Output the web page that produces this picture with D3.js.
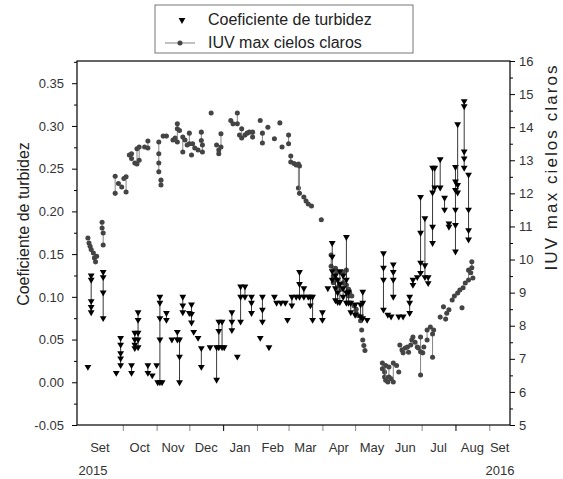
<!DOCTYPE html>
<html>
<head>
<meta charset="utf-8">
<script src="https://cdn.jsdelivr.net/npm/d3@7"></script>
<style>
body { margin: 0; background: #fff; }
svg text { font-family: "Liberation Sans", Arial, sans-serif; }
</style>
</head>
<body>
<svg id="chart" width="563" height="479"></svg>
<script>
// Coeficiente de turbidez: several readings per day
var turbDays = ["2015-08-30","2015-09-02","2015-09-13","2015-09-25","2015-09-29","2015-10-09","2015-10-12","2015-10-15",
  "2015-10-24","2015-10-28","2015-11-01","2015-11-02","2015-11-04","2015-11-06","2015-11-10","2015-11-15","2015-11-20",
  "2015-11-22","2015-11-25","2015-12-01","2015-12-03","2015-12-05","2015-12-09","2015-12-12","2015-12-20","2015-12-26",
  "2015-12-28","2015-12-31","2016-01-02","2016-01-09","2016-01-14","2016-01-17","2016-01-21","2016-01-27","2016-02-04",
  "2016-02-06","2016-02-12","2016-02-17","2016-02-19","2016-02-23","2016-02-27","2016-02-29","2016-03-04","2016-03-08",
  "2016-03-11","2016-03-15","2016-03-19","2016-03-21","2016-03-23","2016-04-01","2016-04-06","2016-04-10","2016-04-13",
  "2016-04-15","2016-04-17","2016-04-20","2016-04-23","2016-04-25","2016-04-27","2016-05-01","2016-05-06","2016-05-08",
  "2016-05-12","2016-05-27","2016-05-31","2016-06-03","2016-06-05","2016-06-10","2016-06-14","2016-06-20","2016-06-23",
  "2016-06-27","2016-06-30","2016-07-04","2016-07-07","2016-07-11","2016-07-13","2016-07-18","2016-07-22","2016-07-26",
  "2016-08-01","2016-08-03","2016-08-09","2016-08-13"];
var turbVals = [[0.018],[0.125,0.12,0.095,0.088,0.082],[0.129,0.123,0.105,0.075],[0.011],[0.052,0.044,0.034,0.028,0.02],
  [0.02,0.011],[0.058,0.05,0.044,0.04],[0.082,0.073,0.058,0.05,0.041],[0.02,0.011],[0.008],[0.02],[0.0],
  [0.1,0.093,0.075,0.05,0.0],[0.0],[0.081,0.073],[0.05],[0.059,0.05],[0.05,0.03,0.0],[0.1,0.09,0.082],[0.081],
  [0.091,0.08,0.07],[0.059],[0.052],[0.04,0.018],[0.041],[0.041,0.003],[0.071,0.06,0.041],[0.071,0.041],[0.041],
  [0.082,0.071,0.061],[0.03],[0.112,0.1,0.071],[0.112,0.1],[0.1,0.093,0.081],[0.052],[0.1,0.085,0.071],[0.041],
  [0.1],[0.093],[0.093],[0.093],[0.073],[0.1,0.09],[0.1],[0.129,0.115,0.1],[0.11,0.1],[0.1],[0.1,0.09],[0.1,0.073],
  [0.082,0.073],[0.11],[0.163,0.147,0.13,0.12],[0.125,0.11,0.096],[0.12,0.105,0.094],[0.13,0.115,0.094],
  [0.125,0.11,0.1],[0.17,0.12,0.105,0.093],[0.106,0.093],[0.093,0.082],[0.091,0.079],[0.091,0.077],
  [0.106,0.093,0.075],[0.073],[0.151,0.134,0.12,0.085],[0.079],[0.077],[0.138,0.129,0.12,0.1],[0.077],[0.077],
  [0.1,0.093,0.081],[0.12,0.114],[0.123],[0.217,0.175,0.14,0.128],[0.192,0.137,0.123],[0.123,0.116],
  [0.251,0.222,0.182,0.163],[0.251,0.228],[0.261,0.228],[0.216,0.202],[0.186,0.182],
  [0.252,0.235,0.225,0.202,0.184,0.153],[0.302,0.231,0.222],[0.329,0.323,0.27,0.262,0.251],[0.243,0.202,0.178,0.167]];

// IUV max cielos claros
var iuvDays = ["2015-08-30","2015-08-31","2015-09-01","2015-09-02","2015-09-04","2015-09-05","2015-09-06","2015-09-07",
  "2015-09-12","2015-09-13","2015-09-24","2015-09-27","2015-09-30","2015-10-02","2015-10-04","2015-10-07","2015-10-09",
  "2015-10-12","2015-10-14","2015-10-16","2015-10-21","2015-10-24","2015-11-03","2015-11-05","2015-11-07","2015-11-10",
  "2015-11-16","2015-11-18","2015-11-20","2015-11-22","2015-11-25","2015-11-27","2015-11-29","2015-12-01","2015-12-03",
  "2015-12-04","2015-12-06","2015-12-09","2015-12-12","2015-12-13","2015-12-21","2015-12-26","2015-12-28","2015-12-30",
  "2016-01-08","2016-01-10","2016-01-14","2016-01-16","2016-01-18","2016-01-21","2016-01-23","2016-01-25","2016-01-28",
  "2016-02-04","2016-02-06","2016-02-11","2016-02-17","2016-02-22","2016-02-24","2016-03-01","2016-03-03","2016-03-06",
  "2016-03-08","2016-03-10","2016-03-11","2016-03-15","2016-03-17","2016-03-19","2016-03-22","2016-03-31","2016-04-09",
  "2016-04-11","2016-04-13","2016-04-14","2016-04-16","2016-04-18","2016-04-20","2016-04-23","2016-04-25","2016-04-26",
  "2016-04-28","2016-04-30","2016-05-02","2016-05-04","2016-05-06","2016-05-07","2016-05-08","2016-05-09","2016-05-10",
  "2016-05-26","2016-05-28","2016-05-29","2016-05-31","2016-06-01","2016-06-03","2016-06-05","2016-06-08","2016-06-10",
  "2016-06-11","2016-06-13","2016-06-14","2016-06-16","2016-06-18","2016-06-19","2016-06-21","2016-06-22","2016-06-23",
  "2016-06-25","2016-06-27","2016-06-28","2016-06-30","2016-07-02","2016-07-03","2016-07-06","2016-07-09","2016-07-11",
  "2016-07-12","2016-07-18","2016-07-21","2016-07-23","2016-07-24","2016-07-26","2016-07-29","2016-07-31","2016-08-03",
  "2016-08-05","2016-08-07","2016-08-08","2016-08-10","2016-08-13","2016-08-15","2016-08-16","2016-08-17"];
var iuvVals = [[10.65],[10.5],[10.4],[10.3],[10.2],[10.05],[9.93],[10.1],[11.13,10.95],[10.8,10.44],[12.52,12.0],[12.3],
  [12.19],[12.45],[12.5,12.04],[13.16],[13.05,13.2],[12.92],[13.35,12.89],[13.4,13.0],[13.4],[13.58,13.37],
  [13.55,13.2,12.92,12.65],[12.4,12.25],[13.73],[13.73],[13.61],[13.67],[14.1,13.95,13.55],[13.9],[13.7,13.25],[13.61],
  [13.46],[13.82,13.5],[13.16],[13.5],[13.37],[13.31],[13.85,13.6],[13.46,13.25],[14.43],[13.46],[13.31,13.2],[13.8,13.4],
  [14.2],[14.1],[14.43,14.1],[13.76],[13.95,13.67],[13.76],[13.82],[13.85],[13.85,13.7],[14.2],[13.82,13.52],[14.0],
  [13.65],[14.13],[13.4],[13.76,13.5],[13.13,12.95],[12.9],[12.86],[12.89,12.16],[12.83,12.0],[11.89],[11.77],[11.68],
  [11.62],[11.2],[10.14,9.8],[9.5,9.3],[9.74],[9.62,9.4],[9.2],[9.1],[9.62,9.3],[9.68,9.23],[9.1,8.9],[9.0],[8.9],[8.6],
  [8.5,8.38],[8.3],[8.15],[7.87],[7.57],[7.4],[7.25],[6.87,6.7],[6.6,6.45],[6.8,6.35],[6.3],[6.75,6.45],[6.4],[6.87,6.3],
  [6.8],[6.6],[7.42],[7.27],[7.18],[7.33],[7.36],[7.2],[7.42],[7.57],[7.66],[7.5],[7.36],[7.33],[7.66,7.21,6.51],[7.18],
  [7.36],[7.87,7.57],[7.96],[7.75,7.05],[7.87],[8.26],[8.57],[8.2],[8.38],[8.48],[8.78],[8.9],[8.99],[9.08],[8.54],
  [9.15],[9.29],[9.38,9.68],[9.6],[9.93,9.75],[9.44]];

var monthTicks = ["2015-10-01","2015-11-01","2015-12-01","2016-01-01","2016-02-01","2016-03-01","2016-04-01",
  "2016-05-01","2016-06-01","2016-07-01","2016-08-01","2016-09-01"];
var monthLabels = ["Set","Oct","Nov","Dec","Jan","Feb","Mar","Apr","May","Jun","Jul","Aug","Set"];
var leftTicks = [-0.05, 0, 0.05, 0.1, 0.15, 0.2, 0.25, 0.3, 0.35];
var leftMinor = [-0.025, 0.025, 0.075, 0.125, 0.175, 0.225, 0.275, 0.325, 0.375];
var rightTicks = [5, 6, 7, 8, 9, 10, 11, 12, 13, 14, 15, 16];
var rightMinor = [5.5, 6.5, 7.5, 8.5, 9.5, 10.5, 11.5, 12.5, 13.5, 14.5, 15.5];

var margin = {top: 61, right: 53, bottom: 54, left: 77},
    width = 563 - margin.left - margin.right,
    height = 479 - margin.top - margin.bottom;

var parse = d3.timeParse("%Y-%m-%d");

var svg = d3.select("#chart")
  .append("g")
  .attr("transform", "translate(" + margin.left + "," + margin.top + ")");

var x = d3.scaleTime().domain([parse("2015-08-20"), parse("2016-09-20")]).range([0, width]);
var yL = d3.scaleLinear().domain([-0.05, 0.376]).range([height, 0]);
var yR = d3.scaleLinear().domain([5, 16]).range([height, 0]);

var tri = d3.symbol().type(d3.symbolTriangle).size(20);
var dot = d3.symbol().type(d3.symbolCircle).size(20);
var line = d3.line();

// IUV series (right axis)
var iuvG = svg.append("g");
iuvDays.forEach(function(day, i) {
  var px = x(parse(day));
  var pts = iuvVals[i].map(function(v) { return [px, yR(v)]; });
  if (pts.length > 1) {
    iuvG.append("path").attr("d", line(pts)).attr("fill", "none")
      .attr("stroke", "#777").attr("stroke-width", 0.9);
  }
  pts.forEach(function(p) {
    iuvG.append("path").attr("d", dot()).attr("transform", "translate(" + p[0] + "," + p[1] + ")")
      .attr("fill", "#444");
  });
});

// turbidity series (left axis)
var turbG = svg.append("g");
turbDays.forEach(function(day, i) {
  var px = x(parse(day));
  var pts = turbVals[i].map(function(v) { return [px, yL(v)]; });
  if (pts.length > 1) {
    turbG.append("path").attr("d", line(pts)).attr("fill", "none")
      .attr("stroke", "#222").attr("stroke-width", 0.9);
  }
  pts.forEach(function(p) {
    turbG.append("path").attr("d", tri()).attr("transform", "translate(" + p[0] + "," + p[1] + ") rotate(180)")
      .attr("fill", "#000");
  });
});

// axes
svg.append("g").call(d3.axisLeft(yL).tickValues(leftTicks).tickSize(5).tickPadding(8)
  .tickFormat(function(d) { return d.toFixed(2); }));
svg.append("g").call(d3.axisLeft(yL).tickValues(leftMinor).tickSize(3).tickFormat(""));
svg.append("g").attr("transform", "translate(" + width + ",0)")
  .call(d3.axisRight(yR).tickValues(rightTicks).tickSize(5).tickPadding(4));
svg.append("g").attr("transform", "translate(" + width + ",0)")
  .call(d3.axisRight(yR).tickValues(rightMinor).tickSize(3).tickFormat(""));
var bottomAxis = svg.append("g").attr("transform", "translate(0," + height + ")")
  .call(d3.axisBottom(x).tickValues(monthTicks.map(parse)).tickSize(6).tickFormat(""));
bottomAxis.selectAll(".tick line").attr("stroke", function(d) {
  return (d.getMonth() === 0 || d.getMonth() === 7) ? "#000" : "#888";
});

svg.selectAll(".domain").remove();
svg.selectAll(".tick text").attr("font-size", 13).attr("fill", "#333")
  .style("font-family", "'Liberation Sans', Arial, sans-serif");

// frame
svg.append("rect").attr("width", width).attr("height", height)
  .attr("fill", "none").attr("stroke", "#000").attr("stroke-width", 1.2);

// month labels centred between the ticks (axis ends included)
var bounds = [0].concat(monthTicks.map(function(d) { return x(parse(d)); })).concat([width]);
svg.selectAll(".mlab").data(monthLabels).enter().append("text")
  .attr("class", "mlab")
  .attr("x", function(d, i) { return (bounds[i] + bounds[i + 1]) / 2; })
  .attr("y", height + 27)
  .attr("text-anchor", "middle").attr("font-size", 13).attr("fill", "#333")
  .text(function(d) { return d; });
svg.append("text").attr("x", 16).attr("y", height + 50).attr("text-anchor", "middle")
  .attr("font-size", 13).attr("fill", "#333").text("2015");
svg.append("text").attr("x", width - 10).attr("y", height + 50).attr("text-anchor", "middle")
  .attr("font-size", 13).attr("fill", "#333").text("2016");

// axis titles
svg.append("text").attr("transform", "translate(" + (29 - margin.left) + "," + (224 - margin.top) + ") rotate(-90)")
  .attr("text-anchor", "middle").attr("font-size", 16).attr("fill", "#222").text("Coeficiente de turbidez");
svg.append("text").attr("transform", "translate(" + (557 - margin.left) + "," + (168 - margin.top) + ") rotate(-90)")
  .attr("text-anchor", "middle").attr("font-size", 17).attr("fill", "#222")
  .attr("textLength", 205).attr("lengthAdjust", "spacing").text("IUV max cielos claros");

// legend
var legend = d3.select("#chart").append("g");
legend.append("rect").attr("x", 155).attr("y", 5).attr("width", 258).attr("height", 48)
  .attr("fill", "#fff").attr("stroke", "#555").attr("stroke-width", 0.8);
legend.append("path").attr("d", tri()).attr("transform", "translate(182,20) rotate(180)").attr("fill", "#000");
legend.append("text").attr("x", 208).attr("y", 25).attr("font-size", 16).attr("fill", "#222").text("Coeficiente de turbidez");
legend.append("line").attr("x1", 165).attr("x2", 195).attr("y1", 43).attr("y2", 43)
  .attr("stroke", "#777").attr("stroke-width", 0.9);
legend.append("path").attr("d", dot()).attr("transform", "translate(180,43)").attr("fill", "#444");
legend.append("text").attr("x", 208).attr("y", 48).attr("font-size", 16).attr("fill", "#222").text("IUV max cielos claros");
</script>
</body>
</html>
